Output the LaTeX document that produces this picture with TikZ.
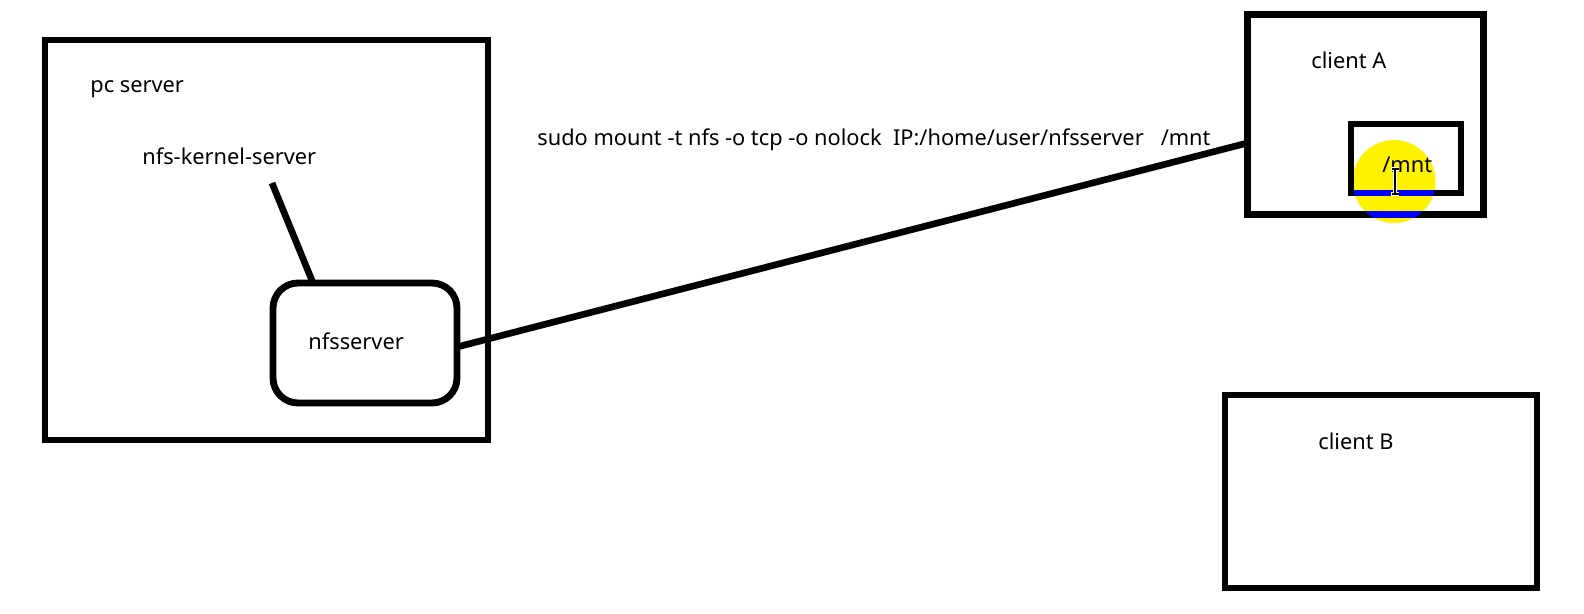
\documentclass[tikz,border=0pt]{standalone}
\usepackage{fontspec}
\setmainfont{Noto Sans}
\usetikzlibrary{calc}
\begin{document}
\begin{tikzpicture}[x=0.02cm,y=-0.02cm,
  frame/.style={draw=black, line width=3.9pt, inner sep=0pt, outer sep=0pt},
  lbl/.style={inner sep=0pt, anchor=base west, font=\fontsize{12.4}{14}\selectfont},
  wire/.style={draw=black, line width=3.8pt}]
\fill[white] (0,0) rectangle (1584,614);
\useasboundingbox (0,0) rectangle (1584,614);
% highlight circle
\node[circle, fill=yellow, minimum size=1.66cm, inner sep=0pt] (hl) at (1394,181.5) {};
% boxes
\node[frame, minimum width=8.86cm, minimum height=8.0cm] (pc) at (266.5,240) {};
\node[frame, rounded corners=0.5cm, minimum width=3.68cm, minimum height=2.4cm] (nfs) at (365,343) {};
\node[frame, minimum width=4.72cm, minimum height=4.0cm] (clientA) at (1365.5,114.5) {};
\node[frame, minimum width=2.2cm, minimum height=1.38cm] (mnt) at (1406,158.5) {};
\node[frame, minimum width=6.24cm, minimum height=3.86cm] (clientB) at (1381,491.5) {};
% blue where lines cross the highlight
\begin{scope}
  \clip (1394,181.5) circle (41.5);
  \draw[blue, line width=3.9pt] (mnt.south west) -- (mnt.south east);
  \draw[blue, line width=3.9pt] (clientA.south west) -- (clientA.south east);
\end{scope}
% labels
\node[lbl] (pclbl) at (90,93) {pc server};
\node[lbl] (kern) at (142,165) {nfs-kernel-server};
\node[lbl] (nfslbl) at (308,350) {nfsserver};
\node[lbl] (cmd) at (537,146) {sudo mount -t nfs -o tcp -o nolock\ \ IP:/home/user/nfsserver\ \ \ /mnt};
\node[lbl] (calbl) at (1311,69) {client A};
\node[lbl] (mntlbl) at (1382,173) {/mnt};
\node[lbl] (cblbl) at (1318,449) {client B};
% connectors
\coordinate (k1) at (272,183);
\draw[wire] (k1) -- ($(nfs.north west)+(40,0)$);
\draw[wire] ($(nfs.east)+(0,4)$) -- ($(clientA.west)+(0,28.5)$);
% text cursor (I-beam)
\draw[white, line width=1.8pt] (1395,169) -- (1395,194) (1391,169) -- (1399,169) (1391,194) -- (1399,194);
\draw[black, line width=0.7pt] (1395,169) -- (1395,194) (1391.5,169) -- (1398.5,169) (1391.5,194) -- (1398.5,194);
\end{tikzpicture}
\end{document}
